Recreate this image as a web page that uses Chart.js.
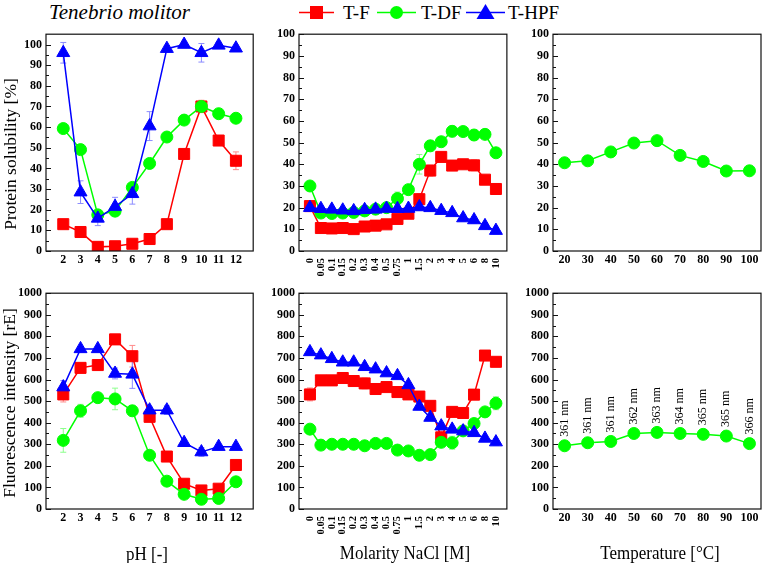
<!DOCTYPE html>
<html>
<head>
<meta charset="utf-8">
<script src="https://cdn.jsdelivr.net/npm/chart.js@4.4.1/dist/chart.umd.min.js"></script>
<style>
  body { margin: 0; background: #fff; width: 767px; height: 563px; position: relative; overflow: hidden; font-family: "Liberation Serif", serif; }
  canvas { position: absolute; }
  .lbl { position: absolute; white-space: nowrap; color: #000; line-height: 1; }
  .ytitle { transform: translate(-50%, -50%) rotate(-90deg); font-size: 17.5px; }
  .xtitle { transform: translate(-50%, -50%) scaleY(1.1); font-size: 17px; }
</style>
</head>
<body>
<div class="lbl" style="left:49px;top:2px;font-size:21px;font-style:italic;">Tenebrio molitor</div>

<svg style="position:absolute;left:0;top:0" width="767" height="26">
  <line x1="299" y1="12.5" x2="334" y2="12.5" stroke="#ff0000" stroke-width="1.5"/>
  <rect x="310" y="6" width="13" height="13" fill="#ff0000"/>
  <text x="343" y="12.5" dominant-baseline="central" font-family="Liberation Serif" font-size="19">T-F</text>
  <line x1="377" y1="12.5" x2="416" y2="12.5" stroke="#00ff00" stroke-width="1.5"/>
  <circle cx="396.5" cy="12.5" r="6.5" fill="#00ff00"/>
  <text x="421" y="12.5" dominant-baseline="central" font-family="Liberation Serif" font-size="19">T-DF</text>
  <line x1="466" y1="12.5" x2="505" y2="12.5" stroke="#0000ff" stroke-width="1.5"/>
  <polygon points="485.5,4 494.5,19 476.5,19" fill="#0000ff"/>
  <text x="508" y="12.5" dominant-baseline="central" font-family="Liberation Serif" font-size="19">T-HPF</text>
</svg>

<canvas id="solPh"></canvas>
<canvas id="solNa"></canvas>
<canvas id="solTemp"></canvas>
<canvas id="fluPh"></canvas>
<canvas id="fluNa"></canvas>
<canvas id="fluTemp"></canvas>

<div class="lbl ytitle" style="left:11px;top:154px;">Protein solubility [%]</div>
<div class="lbl ytitle" style="left:10px;top:403px;">Fluorescence intensity [rE]</div>
<div class="lbl xtitle" style="left:147px;top:554px;">pH [-]</div>
<div class="lbl xtitle" style="left:405px;top:553px;">Molarity NaCl [M]</div>
<div class="lbl xtitle" style="left:660px;top:553px;">Temperature [°C]</div>

<script>
// x categories
const phValues = [2, 3, 4, 5, 6, 7, 8, 9, 10, 11, 12];
const naclLabels = ['0', '0.05', '0.1', '0.15', '0.2', '0.3', '0.4', '0.5', '0.75', '1', '1.5', '2', '3', '4', '5', '6', '8', '10'];
const tempValues = [20, 30, 40, 50, 60, 70, 80, 90, 100];

// y ticks
const solTicks = [0, 10, 20, 30, 40, 50, 60, 70, 80, 90, 100];
const fluTicks = [0, 100, 200, 300, 400, 500, 600, 700, 800, 900, 1000];

// protein solubility [%] vs pH
const solPhTF = [13, 9.2, 2, 2.3, 3.5, 5.8, 13, 47, 70, 53.5, 43.7];
const solPhTDF = [59.3, 49.1, 17.5, 19.3, 30.8, 42.4, 55.2, 63.4, 70, 66.5, 64.3];
const solPhTHPF = [96, 28.5, 15.8, 21.5, 27.7, 60.5, 98, 100, 96, 99.6, 98.2];
const solPhTFErr = [0.8, 0.8, 0.5, 0.5, 0.8, 0.8, 0.8, 1, 3, 1.5, 4.3];
const solPhTDFErr = [1, 1, 1.5, 2, 2, 1, 1, 1, 1.5, 1, 1];
const solPhTHPFErr = [5, 5.5, 3.5, 4.5, 5, 7, 1.5, 1.5, 4.5, 1.5, 1.5];

// protein solubility [%] vs NaCl
const solNaTF = [20.7, 10.6, 10.4, 10.6, 10.1, 11.3, 11.7, 12.3, 14.8, 17.2, 23.9, 37.1, 43.4, 39.4, 40, 39.5, 32.9, 28.6];
const solNaTDF = [30, 17.5, 17.3, 17.5, 17.8, 18.5, 19.3, 20, 24.2, 28.3, 40, 48.5, 50.4, 55.2, 55.1, 53.5, 53.8, 45.3];
const solNaTHPF = [20, 19.5, 19.2, 18.8, 18.5, 19, 19.2, 19.6, 19.5, 19.6, 20.3, 19.9, 18.6, 17.6, 15.2, 14.3, 11.6, 9.4];
const solNaTFErr = [1, 1, 1, 1, 1.5, 1, 1, 1, 1, 1, 2.5, 2.5, 1, 1.5, 1.5, 2.5, 1, 2.5];
const solNaTDFErr = [1, 1, 1, 1, 1, 1, 1, 1, 3, 1, 4.5, 2.5, 1, 2.5, 1, 2.5, 1, 1];
const solNaTHPFErr = [1, 1, 1, 1, 1, 1, 1, 1, 1, 1, 1.5, 1.5, 1, 1, 1.5, 1.5, 1.5, 1.5];

// protein solubility [%] vs temperature
const solTempTDF = [40.7, 41.6, 45.7, 49.8, 50.9, 44.1, 41.3, 36.9, 37];
const solTempTDFErr = [1, 1, 1, 1, 1, 1, 1, 1, 2];

// fluorescence intensity vs pH
const fluPhTF = [531, 654, 667, 786, 708, 427, 243, 117, 86, 94, 204];
const fluPhTDF = [318, 455, 516, 510, 455, 249, 129, 68, 45, 49, 126];
const fluPhTHPF = [565, 742, 742, 628, 624, 458, 458, 307, 264, 289, 289];
const fluPhTFErr = [35, 20, 25, 10, 50, 20, 10, 10, 10, 10, 10];
const fluPhTDFErr = [55, 30, 10, 50, 25, 10, 10, 10, 10, 10, 10];
const fluPhTHPFErr = [30, 10, 10, 25, 65, 15, 20, 15, 20, 10, 10];

// fluorescence intensity vs NaCl
const fluNaTF = [531, 596, 596, 607, 593, 582, 556, 565, 542, 531, 521, 478, 332, 450, 445, 530, 711, 682];
const fluNaTDF = [370, 296, 300, 300, 300, 293, 304, 304, 273, 269, 249, 252, 309, 307, 362, 396, 450, 490];
const fluNaTHPF = [728, 713, 696, 680, 680, 659, 648, 630, 617, 575, 475, 424, 384, 369, 361, 353, 327, 310];
const fluNaTFErr = [30, 10, 10, 10, 10, 25, 10, 10, 10, 10, 10, 15, 30, 20, 10, 10, 10, 10];
const fluNaTDFErr = [10, 10, 10, 10, 10, 10, 10, 10, 10, 10, 10, 10, 10, 30, 10, 10, 10, 30];
const fluNaTHPFErr = [15, 15, 10, 10, 10, 10, 10, 10, 10, 10, 15, 15, 10, 10, 10, 10, 10, 15];

// fluorescence intensity vs temperature (+ emission maxima)
const fluTempTDF = [293, 307, 313, 350, 355, 350, 346, 338, 303];
const fluTempTDFErr = [8, 8, 8, 8, 8, 8, 8, 8, 8];
const wavelengthLabels = ['361 nm', '361 nm', '361 nm', '362 nm', '363 nm', '364 nm', '365 nm', '365 nm', '366 nm'];

const SERIF = '"Liberation Serif", "Times New Roman", serif';
const styles = {
  tf: { color: '#ff0000', err: '#ff8c8c', point: 'rect', r: 7.8, order: 2 },
  tdf: { color: '#00ff00', err: '#8cff8c', point: 'circle', r: 6, order: 1 },
  thpf: { color: '#0000ff', err: '#8c8cff', point: 'triangle', r: 7.5, order: 0 }
};

function series(kind, xs, ys, errs) {
  const s = styles[kind];
  return {
    data: xs.map((x, i) => ({ x: x, y: ys[i] })),
    errors: errs,
    errorColor: s.err,
    borderColor: s.color,
    backgroundColor: s.color,
    borderWidth: 1.5,
    pointStyle: s.point,
    pointRadius: s.r,
    pointBorderWidth: 1,
    pointBorderColor: s.color,
    pointBackgroundColor: s.color,
    order: s.order,
    tension: 0
  };
}

const errorBars = {
  id: 'errorBars',
  beforeDatasetsDraw(chart) {
    const ctx = chart.ctx;
    const yScale = chart.scales.y;
    chart.data.datasets.forEach((ds, i) => {
      if (!ds.errors) return;
      const meta = chart.getDatasetMeta(i);
      ctx.save();
      ctx.strokeStyle = ds.errorColor;
      ctx.lineWidth = 1;
      meta.data.forEach((pt, j) => {
        const v = ds.data[j].y, e = ds.errors[j];
        const yt = yScale.getPixelForValue(v + e);
        const yb = yScale.getPixelForValue(v - e);
        ctx.beginPath();
        ctx.moveTo(pt.x, yt); ctx.lineTo(pt.x, yb);
        ctx.moveTo(pt.x - 3, yt); ctx.lineTo(pt.x + 3, yt);
        ctx.moveTo(pt.x - 3, yb); ctx.lineTo(pt.x + 3, yb);
        ctx.stroke();
      });
      ctx.restore();
    });
  }
};

const frame = {
  id: 'frame',
  afterDraw(chart) {
    const ctx = chart.ctx;
    const a = chart.chartArea;
    const y = chart.scales.y;
    ctx.save();
    ctx.strokeStyle = '#111';
    ctx.lineWidth = 1.2;
    ctx.strokeRect(a.left, a.top, a.right - a.left, a.bottom - a.top);
    ctx.lineWidth = 1;
    ctx.beginPath();
    const ticks = y.ticks.map(t => t.value);
    const step = ticks[1] - ticks[0];
    ticks.forEach((v, i) => {
      const py = Math.round(y.getPixelForValue(v)) + 0.5;
      ctx.moveTo(a.left, py); ctx.lineTo(a.left + 5, py);
      if (i < ticks.length - 1) {
        const pm = Math.round(y.getPixelForValue(v + step / 2)) + 0.5;
        ctx.moveTo(a.left, pm); ctx.lineTo(a.left + 3, pm);
      }
    });
    ctx.stroke();
    ctx.restore();
  }
};

const pointLabels = {
  id: 'pointLabels',
  afterDatasetsDraw(chart) {
    const labels = chart.options.plugins.pointLabels && chart.options.plugins.pointLabels.labels;
    if (!labels) return;
    const ctx = chart.ctx;
    const meta = chart.getDatasetMeta(0);
    ctx.save();
    ctx.fillStyle = '#000';
    ctx.font = '12px ' + SERIF;
    ctx.textAlign = 'left';
    ctx.textBaseline = 'middle';
    meta.data.forEach((pt, i) => {
      ctx.save();
      ctx.translate(pt.x, pt.y - 9);
      ctx.rotate(-Math.PI / 2);
      ctx.fillText(labels[i], 0, 0);
      ctx.restore();
    });
    ctx.restore();
  }
};

function makePanel(id, box, cfg) {
  const xh = cfg.rotated ? 40 : 20;
  const canvas = document.getElementById(id);
  canvas.width = box.r - box.l + 49;
  canvas.height = box.b - box.t + 10 + xh;
  canvas.style.left = (box.l - 45) + 'px';
  canvas.style.top = (box.t - 10) + 'px';

  return new Chart(canvas, {
    type: 'line',
    data: { datasets: cfg.datasets },
    plugins: [errorBars, frame, pointLabels],
    options: {
      responsive: false,
      animation: false,
      layout: { padding: { top: 10, right: 4, left: 0, bottom: 0 } },
      plugins: {
        legend: { display: false },
        tooltip: { enabled: false },
        pointLabels: { labels: cfg.pointLabels }
      },
      scales: {
        x: {
          type: 'linear',
          min: cfg.xMin,
          max: cfg.xMax,
          grid: { display: false, drawTicks: false },
          border: { display: false },
          afterBuildTicks: s => { s.ticks = cfg.xTicks.map(v => ({ value: v })); },
          afterFit: s => { s.height = xh; },
          ticks: {
            autoSkip: false,
            minRotation: cfg.rotated ? 90 : 0,
            maxRotation: cfg.rotated ? 90 : 0,
            padding: cfg.rotated ? 7 : 2,
            color: '#000',
            font: { family: SERIF, size: cfg.rotated ? 10.5 : 12, weight: 'bold' },
            callback: cfg.xLabel || (v => String(v))
          }
        },
        y: {
          min: 0,
          max: cfg.yMax,
          grid: { display: false, drawTicks: false },
          border: { display: false },
          afterBuildTicks: s => { s.ticks = cfg.yTicks.map(v => ({ value: v })); },
          afterFit: s => { s.width = 45; },
          ticks: {
            padding: 4,
            color: '#000',
            font: { family: SERIF, size: 12, weight: 'bold' },
            callback: v => String(v)
          }
        }
      }
    }
  });
}

const naclIdx = naclLabels.map((_, i) => i);
const naclLabel = v => naclLabels[v];

makePanel('solPh', { l: 46, t: 33, r: 258, b: 251 }, {
  xMin: 1, xMax: 13, xTicks: phValues, yMax: 105, yTicks: solTicks,
  datasets: [
    series('tf', phValues, solPhTF, solPhTFErr),
    series('tdf', phValues, solPhTDF, solPhTDFErr),
    series('thpf', phValues, solPhTHPF, solPhTHPFErr)
  ]
});

makePanel('solNa', { l: 299, t: 33, r: 512, b: 251 }, {
  xMin: -1, xMax: 18, xTicks: naclIdx, xLabel: naclLabel, rotated: true, yMax: 100, yTicks: solTicks,
  datasets: [
    series('tf', naclIdx, solNaTF, solNaTFErr),
    series('tdf', naclIdx, solNaTDF, solNaTDFErr),
    series('thpf', naclIdx, solNaTHPF, solNaTHPFErr)
  ]
});

makePanel('solTemp', { l: 553, t: 33, r: 764, b: 251 }, {
  xMin: 15, xMax: 105, xTicks: tempValues, yMax: 100, yTicks: solTicks,
  datasets: [series('tdf', tempValues, solTempTDF, solTempTDFErr)]
});

makePanel('fluPh', { l: 46, t: 292, r: 258, b: 509 }, {
  xMin: 1, xMax: 13, xTicks: phValues, yMax: 1000, yTicks: fluTicks,
  datasets: [
    series('tf', phValues, fluPhTF, fluPhTFErr),
    series('tdf', phValues, fluPhTDF, fluPhTDFErr),
    series('thpf', phValues, fluPhTHPF, fluPhTHPFErr)
  ]
});

makePanel('fluNa', { l: 299, t: 292, r: 512, b: 509 }, {
  xMin: -1, xMax: 18, xTicks: naclIdx, xLabel: naclLabel, rotated: true, yMax: 1000, yTicks: fluTicks,
  datasets: [
    series('tf', naclIdx, fluNaTF, fluNaTFErr),
    series('tdf', naclIdx, fluNaTDF, fluNaTDFErr),
    series('thpf', naclIdx, fluNaTHPF, fluNaTHPFErr)
  ]
});

makePanel('fluTemp', { l: 553, t: 292, r: 764, b: 509 }, {
  xMin: 15, xMax: 105, xTicks: tempValues, yMax: 1000, yTicks: fluTicks,
  pointLabels: wavelengthLabels,
  datasets: [series('tdf', tempValues, fluTempTDF, fluTempTDFErr)]
});
</script>
</body>
</html>
